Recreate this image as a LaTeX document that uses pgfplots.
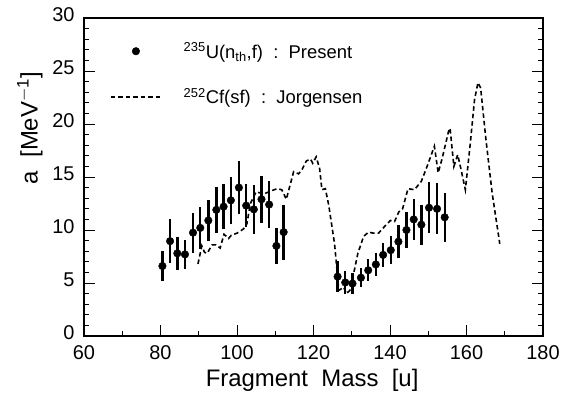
\documentclass[border=0pt]{standalone}
\usepackage{fontspec}
\setmainfont{Liberation Sans}
\usepackage{pgfplots}
\pgfplotsset{compat=1.18}

\begin{document}
\begin{tikzpicture}
\useasboundingbox (-84bp,-65bp) rectangle (478bp,336bp);
\begin{axis}[
    scale only axis,
    width=459bp, height=318bp,
    xmin=60, xmax=180, ymin=0, ymax=30,
    xtick={60,80,...,180}, minor xtick={70,90,...,170},
    ytick={0,5,...,30}, minor ytick={0,1,...,30},
    xtick pos=bottom, ytick pos=both,
    tick align=inside,
    major tick length=11bp, minor tick length=5bp,
    every tick/.style={line width=1bp, black},
    axis line style={line width=1.2bp},
    /pgf/number format/assume math mode=true,
    ticklabel style={font=\fontsize{20}{22}\selectfont},
    xticklabel style={yshift=-6bp},
    yticklabel style={xshift=-6bp, yshift=3bp},
    label style={font=\fontsize{24}{26}\selectfont},
    xlabel={Fragment\ \ Mass\ \ [u]},
    ylabel={a\ \ [MeV\textsuperscript{$-$1}]},
    xlabel style={at={(axis description cs:0.497,-0.138)}, anchor=center},
    ylabel style={at={(axis description cs:-0.118,0.654)}, anchor=center},
    legend cell align=left,
    legend style={draw=none, fill=none, at={(axis description cs:0.05,0.935)},
        anchor=north west, row sep=25bp, column sep=20bp,
        font=\fontsize{18.5}{21}\selectfont},
    legend image code/.code={\draw[mark repeat=2,mark phase=2,#1]
        plot coordinates {(0bp,0bp) (25bp,0bp) (50bp,0bp)};},
]
\addplot[only marks, mark=*, mark size=3.8bp, black,
    error bars/.cd, y dir=both, y explicit,
    error bar style={line width=2.4bp}, error mark=none]
coordinates {
(80.5,6.6) +- (0,1.45)
(82.5,8.95) +- (0,2.08)
(84.4,7.8) +- (0,1.55)
(86.4,7.7) +- (0,1.4)
(88.5,9.75) +- (0,1.9)
(90.4,10.2) +- (0,1.95)
(92.5,10.9) +- (0,1.95)
(94.6,11.9) +- (0,2.15)
(96.5,12.2) +- (0,2.15)
(98.4,12.8) +- (0,2.2)
(100.5,14.0) +- (0,2.5)
(102.4,12.3) +- (0,2.05)
(104.4,11.95) +- (0,2.3)
(106.4,12.9) +- (0,2.2)
(108.4,12.4) +- (0,2.25)
(110.3,8.5) +- (0,1.7)
(112.2,9.8) +- (0,2.6)
(126.3,5.6) +- (0,1.45)
(128.3,5.05) +- (0,1.05)
(130.2,4.95) +- (0,0.95)
(132.4,5.5) +- (0,0.9)
(134.3,6.2) +- (0,1.05)
(136.3,6.75) +- (0,1.1)
(138.2,7.65) +- (0,1.15)
(140.2,8.1) +- (0,1.35)
(142.2,8.9) +- (0,1.55)
(144.3,10.0) +- (0,1.7)
(146.2,11.0) +- (0,1.95)
(148.2,10.5) +- (0,1.9)
(150.2,12.1) +- (0,2.4)
(152.3,12.0) +- (0,2.4)
(154.3,11.2) +- (0,2.3)
};
\addlegendentry{\textsuperscript{235}U(n\textsubscript{th},f)\ \ :\ \ Present}
\addplot[black, line width=1.6bp, dash pattern=on 4.5bp off 3bp]
coordinates {
(89.8,6.8) (90.8,8.5) (91.5,7.9) (92.2,7.8) (93.5,8.6) (94.5,8.6)
(95.6,8.3) (96.6,9.6) (97.8,9.2) (98.5,9.5) (100,9.7) (101.7,10.1)
(102.6,10.6) (103.5,12.5) (105,13.6) (107,13.4) (109,13.7) (110.5,13.9)
(111.7,13.8) (112.9,12.9) (114.8,15.5) (116.1,15.3) (117,15.7) (118.1,16.5)
(119.2,16.7) (119.8,16.3) (120.7,16.9) (121.6,15.8) (122.2,13.8) (123.1,13.9)
(124,12.3) (125.5,8.7) (126.2,6.0) (126.6,4.3) (127.9,4.6) (128.6,4.0)
(129.5,4.3) (130.5,5.9) (131.6,7.8) (133.1,9.4) (134.4,9.8) (135.7,9.7)
(137,9.7) (138.5,10.3) (140.1,10.9) (141.2,10.8) (142.3,11.7) (143.3,12.0)
(144.7,13.9) (146.4,13.8) (148.2,14.6) (149.7,16.0) (151.6,17.9) (152.6,15.4)
(153.6,16.7) (155.3,19.3) (155.7,19.6) (156.7,16.0) (157.7,17.1) (158.4,16.0)
(159.7,13.8) (161.0,18.2) (162.1,22.3) (163.0,23.9) (163.7,23.4) (165.0,18.8)
(166.7,13.5) (168.7,8.7)
};
\addlegendentry{\textsuperscript{252}Cf(sf)\ \ :\ \ Jorgensen}
\end{axis}
\end{tikzpicture}
\end{document}
